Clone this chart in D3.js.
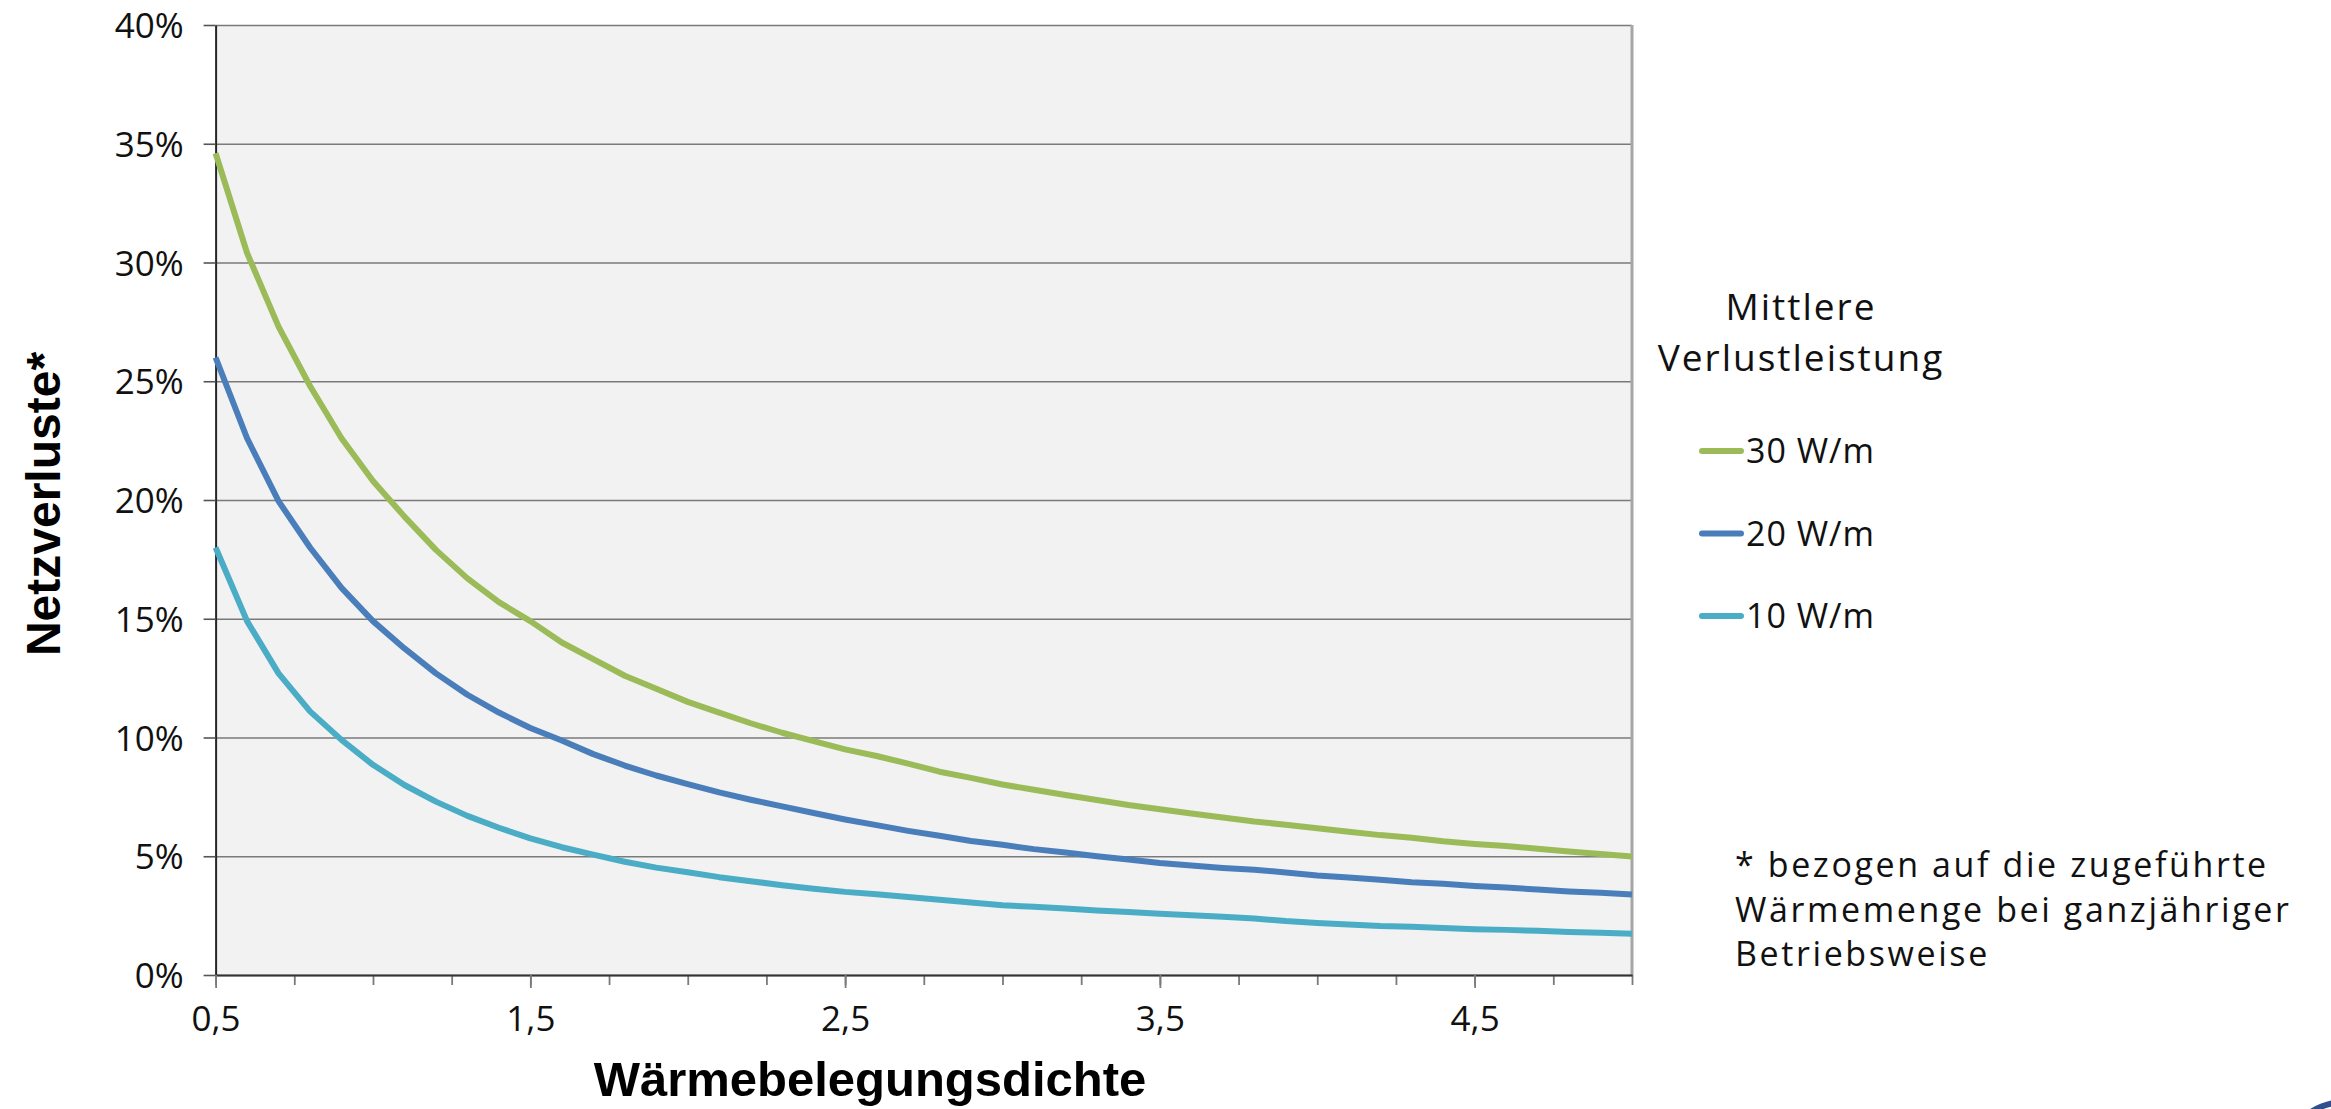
<!DOCTYPE html>
<html>
<head>
<meta charset="utf-8">
<script src="https://cdn.jsdelivr.net/npm/d3@7"></script>
<style>
  body { margin: 0; background: #ffffff; }
  svg { display: block; }
</style>
</head>
<body>
<svg id="netz-svg"></svg>
<script>
// Data (values in percent)
const xValues = [
  0.5, 0.6, 0.7, 0.8, 0.9, 1.0, 1.1, 1.2, 1.3, 1.4, 1.5, 1.6, 1.7, 1.8, 1.9,
  2.0, 2.1, 2.2, 2.3, 2.4, 2.5, 2.6, 2.7, 2.8, 2.9, 3.0, 3.1, 3.2, 3.3, 3.4,
  3.5, 3.6, 3.7, 3.8, 3.9, 4.0, 4.1, 4.2, 4.3, 4.4, 4.5, 4.6, 4.7, 4.8, 4.9, 5.0,
];
const loss30 = [
  34.6, 30.4, 27.3, 24.8, 22.6, 20.8, 19.3, 17.9, 16.7, 15.7, 14.9, 14.0, 13.3,
  12.6, 12.05, 11.5, 11.05, 10.6, 10.2, 9.85, 9.5, 9.22, 8.9, 8.56, 8.3, 8.02,
  7.8, 7.58, 7.37, 7.16, 6.98, 6.8, 6.63, 6.46, 6.33, 6.18, 6.03, 5.89, 5.78,
  5.63, 5.52, 5.43, 5.32, 5.2, 5.09, 4.99,
];
const loss20 = [
  26.0, 22.6, 19.95, 18.0, 16.3, 14.9, 13.75, 12.7, 11.8, 11.05, 10.4, 9.87,
  9.3, 8.82, 8.4, 8.04, 7.69, 7.38, 7.1, 6.82, 6.55, 6.31, 6.07, 5.86, 5.64,
  5.48, 5.3, 5.16, 5.0, 4.86, 4.72, 4.61, 4.51, 4.43, 4.32, 4.19, 4.11, 4.01,
  3.91, 3.84, 3.75, 3.68, 3.6, 3.52, 3.46, 3.39,
];
const loss10 = [
  18.0, 14.9, 12.7, 11.1, 9.9, 8.85, 8.0, 7.3, 6.7, 6.2, 5.75, 5.38, 5.07, 4.77,
  4.52, 4.33, 4.12, 3.95, 3.78, 3.63, 3.5, 3.4, 3.28, 3.17, 3.05, 2.94, 2.87,
  2.8, 2.72, 2.65, 2.58, 2.52, 2.45, 2.38, 2.27, 2.19, 2.13, 2.06, 2.03, 1.98,
  1.93, 1.9, 1.86, 1.81, 1.78, 1.74,
];
const seriesNames = ["30 W/m", "20 W/m", "10 W/m"];
const seriesColors = ["#9bbb59", "#4a7ebb", "#4bacc6"];
const yTickValues = [0, 5, 10, 15, 20, 25, 30, 35, 40];
const xMajorTicks = [0.5, 1.5, 2.5, 3.5, 4.5];
const xMinorTicks = [
  0.5, 0.75, 1.0, 1.25, 1.5, 1.75, 2.0, 2.25, 2.5, 2.75, 3.0, 3.25, 3.5, 3.75,
  4.0, 4.25, 4.5, 4.75, 5.0,
];
const legendTitle = ["Mittlere", "Verlustleistung"];
const footnote = [
  "* bezogen auf die zugeführte",
  "Wärmemenge bei ganzjähriger",
  "Betriebsweise",
];

const drawChart = () => {
  const svgWidth = 2331;
  const svgHeight = 1109;
  const plotLeft = 215.6;
  const plotRight = 1632;
  const plotTop = 25;
  const plotBottom = 975;
  const regularFont = "'Open Sans', 'DejaVu Sans', sans-serif";
  const boldFont = "'Liberation Sans', Arial, sans-serif";

  const svg = d3
    .select("#netz-svg")
    .attr("width", svgWidth)
    .attr("height", svgHeight);

  // Scales
  const xScale = d3.scaleLinear().domain([0.5, 5.0]).range([plotLeft, plotRight]);
  const yScale = d3.scaleLinear().domain([0, 40]).range([plotBottom, plotTop]);

  // Plot Background
  svg
    .append("rect")
    .attr("x", plotLeft)
    .attr("y", plotTop)
    .attr("width", plotRight - plotLeft)
    .attr("height", plotBottom - plotTop)
    .style("fill", "#f2f2f2");

  // Y Grid
  const yGrid = d3
    .axisLeft(yScale)
    .tickValues(yTickValues)
    .tickSize(-(plotRight - plotLeft))
    .tickFormat("");
  svg
    .append("g")
    .attr("id", "y-grid")
    .attr("transform", `translate(${plotLeft},0)`)
    .call(yGrid)
    .call((g) => g.select(".domain").remove())
    .selectAll("line")
    .style("stroke", "#7a7a7a")
    .style("stroke-width", 1.6);

  // Right Border
  svg
    .append("line")
    .attr("x1", plotRight)
    .attr("x2", plotRight)
    .attr("y1", plotTop)
    .attr("y2", plotBottom)
    .style("stroke", "#a6a6a6")
    .style("stroke-width", 3);

  // Y Axis
  const yAxis = d3
    .axisLeft(yScale)
    .tickValues(yTickValues)
    .tickSize(12)
    .tickSizeOuter(0)
    .tickPadding(20)
    .tickFormat((d) => d + "%");
  const yAxisG = svg
    .append("g")
    .attr("id", "y-axis")
    .attr("transform", `translate(${plotLeft},0)`)
    .call(yAxis);
  yAxisG.select(".domain").style("stroke", "#262626").style("stroke-width", 2);
  yAxisG.selectAll(".tick line").style("stroke", "#555555").style("stroke-width", 1.6);
  yAxisG
    .selectAll(".tick text")
    .attr("dy", "0.36em")
    .style("font-family", regularFont)
    .style("font-size", "35px")
    .style("fill", "#111111");

  // X Axis Minor Ticks
  const xMinor = d3.axisBottom(xScale).tickValues(xMinorTicks).tickSize(10).tickFormat("");
  const xMinorG = svg
    .append("g")
    .attr("id", "x-minor")
    .attr("transform", `translate(0,${plotBottom})`)
    .call(xMinor);
  xMinorG.select(".domain").remove();
  xMinorG.selectAll(".tick line").style("stroke", "#7a7a7a").style("stroke-width", 1.8);

  // X Axis
  const xAxis = d3
    .axisBottom(xScale)
    .tickValues(xMajorTicks)
    .tickSize(13)
    .tickSizeOuter(0)
    .tickPadding(18)
    .tickFormat((d) => d3.format(".1f")(d).replace(".", ","));
  const xAxisG = svg
    .append("g")
    .attr("id", "x-axis")
    .attr("transform", `translate(0,${plotBottom})`)
    .call(xAxis);
  xAxisG.select(".domain").style("stroke", "#333333").style("stroke-width", 2);
  xAxisG.selectAll(".tick line").style("stroke", "#7a7a7a").style("stroke-width", 1.8);
  xAxisG
    .selectAll(".tick text")
    .attr("dy", "0.71em")
    .style("font-family", regularFont)
    .style("font-size", "35px")
    .style("fill", "#111111");

  // Lines
  const series = [loss30, loss20, loss10].map((values, i) => ({
    name: seriesNames[i],
    color: seriesColors[i],
    points: values.map((v, j) => ({ x: xValues[j], y: v })),
  }));

  const line = d3
    .line()
    .x((d) => xScale(d.x))
    .y((d) => yScale(d.y));

  svg
    .selectAll(".loss-line")
    .data(series)
    .enter()
    .append("path")
    .classed("loss-line", true)
    .attr("d", (d) => line(d.points))
    .style("fill", "none")
    .style("stroke", (d) => d.color)
    .style("stroke-width", 6)
    .style("stroke-linejoin", "round");

  // Axis Titles
  svg
    .append("text")
    .attr("x", 870)
    .attr("y", 1096)
    .attr("text-anchor", "middle")
    .style("font-family", boldFont)
    .style("font-weight", "bold")
    .style("font-size", "49px")
    .style("fill", "#000000")
    .text("Wärmebelegungsdichte");

  svg
    .append("text")
    .attr("transform", "translate(60,504) rotate(-90)")
    .attr("text-anchor", "middle")
    .style("font-family", boldFont)
    .style("font-weight", "bold")
    .style("font-size", "48px")
    .style("fill", "#000000")
    .text("Netzverluste*");

  // Legend
  const legend = svg.append("g").attr("id", "legend");

  legend
    .selectAll(".legend-title")
    .data(legendTitle)
    .enter()
    .append("text")
    .classed("legend-title", true)
    .attr("x", 1801)
    .attr("y", (_, i) => 320 + i * 51)
    .attr("text-anchor", "middle")
    .style("font-family", regularFont)
    .style("font-size", "37px")
    .style("letter-spacing", "2px")
    .style("fill", "#111111")
    .text((d) => d);

  const legendItems = legend
    .selectAll(".legend-item")
    .data(series)
    .enter()
    .append("g")
    .classed("legend-item", true)
    .attr("transform", (_, i) => `translate(1700,${451 + i * 82.5})`);

  legendItems
    .append("line")
    .attr("x1", 2)
    .attr("x2", 41)
    .style("stroke", (d) => d.color)
    .style("stroke-width", 6)
    .style("stroke-linecap", "round");

  legendItems
    .append("text")
    .attr("x", 46)
    .attr("y", 12)
    .style("font-family", regularFont)
    .style("font-size", "34px")
    .style("letter-spacing", "1px")
    .style("fill", "#111111")
    .text((d) => d.name);

  // Footnote
  svg
    .selectAll(".footnote")
    .data(footnote)
    .enter()
    .append("text")
    .classed("footnote", true)
    .attr("x", 1735)
    .attr("y", (_, i) => 877 + i * 44.5)
    .style("font-family", regularFont)
    .style("font-size", "34px")
    .style("letter-spacing", "2.6px")
    .style("fill", "#111111")
    .text((d) => d);

  // Corner logo fragment
  svg
    .append("path")
    .attr("d", d3.arc()({ innerRadius: 60, outerRadius: 66, startAngle: -0.55, endAngle: -0.15 }))
    .attr("transform", "translate(2345,1165)")
    .style("fill", "#2f4f8f");
};

drawChart();
</script>
</body>
</html>
